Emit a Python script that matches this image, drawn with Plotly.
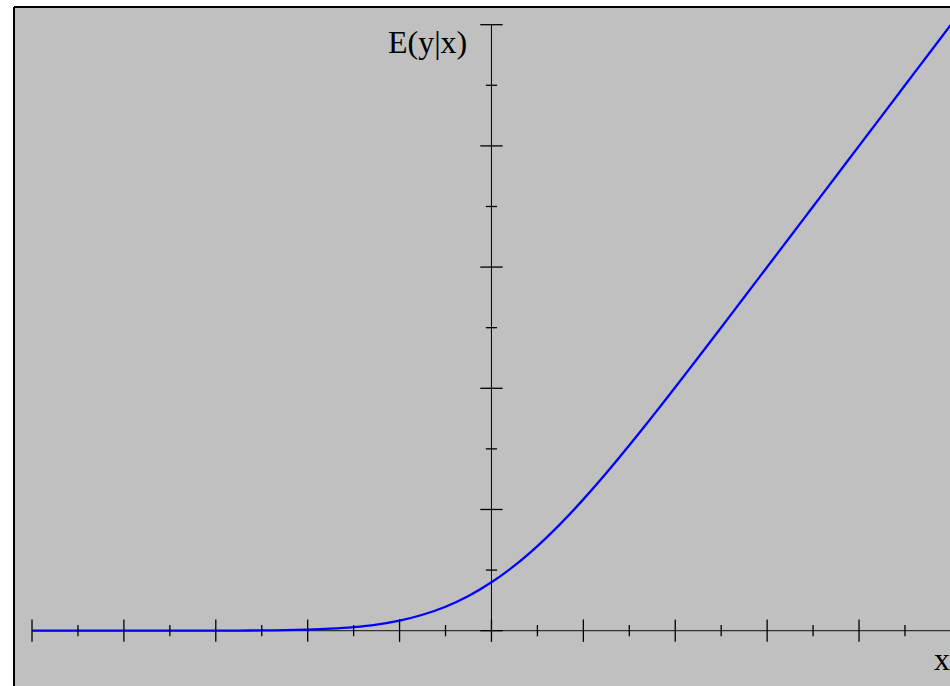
import plotly.graph_objects as go

# Data
x_vals = [-5.0, -4.75, -4.5, -4.25, -4.0, -3.75, -3.5, -3.25, -3.0, -2.75, -2.5, -2.25,
          -2.0, -1.75, -1.5, -1.25, -1.0, -0.75, -0.5, -0.25, 0.0, 0.25, 0.5, 0.75,
          1.0, 1.25, 1.5, 1.75, 2.0, 2.25, 2.5, 2.75, 3.0, 3.25, 3.5, 3.75, 4.0,
          4.25, 4.5, 4.75, 5.0]
ey_vals = [0.0, 0.0, 0.0, 0.0, 0.0, 0.00002, 0.00006, 0.00015, 0.0004, 0.0009, 0.002, 0.0042,
           0.0085, 0.0162, 0.0293, 0.0506, 0.0833, 0.1312, 0.1978, 0.2863, 0.3989, 0.5363, 0.6978, 0.8812,
           1.0833, 1.3006, 1.5293, 1.7662, 2.0085, 2.2542, 2.502, 2.7509, 3.0004, 3.2502, 3.5001, 3.75, 4.0,
           4.25, 4.5, 4.75, 5.0]

x_major_ticks = [-5, -4, -3, -2, -1, 0, 1, 2, 3, 4, 5]
x_minor_ticks = [-4.5, -3.5, -2.5, -1.5, -0.5, 0.5, 1.5, 2.5, 3.5, 4.5]
y_major_ticks = [0, 1, 2, 3, 4, 5]
y_minor_ticks = [0.5, 1.5, 2.5, 3.5, 4.5]

y_label = "E(y|x)"
x_label = "x"

fig = go.Figure()

# axes lines
fig.add_trace(go.Scatter(x=[x_major_ticks[0], x_major_ticks[-1]], y=[0, 0], mode="lines",
                         line=dict(color="#333333", width=1.2), hoverinfo="skip"))
fig.add_trace(go.Scatter(x=[0, 0], y=[y_major_ticks[0], y_major_ticks[-1]], mode="lines",
                         line=dict(color="black", width=1), hoverinfo="skip"))

# curve
fig.add_trace(go.Scatter(x=x_vals, y=ey_vals, mode="lines",
                         line=dict(color="blue", width=2.3, shape="spline", smoothing=0.6)))

# ticks
fig.add_trace(go.Scatter(x=x_major_ticks, y=[0] * len(x_major_ticks), mode="markers",
                         marker=dict(symbol="line-ns", size=16, line=dict(color="black", width=1.3)),
                         hoverinfo="skip"))
fig.add_trace(go.Scatter(x=x_minor_ticks, y=[0] * len(x_minor_ticks), mode="markers",
                         marker=dict(symbol="line-ns", size=8, line=dict(color="black", width=1.3)),
                         hoverinfo="skip"))
fig.add_trace(go.Scatter(x=[0] * len(y_major_ticks), y=y_major_ticks, mode="markers",
                         marker=dict(symbol="line-ew", size=16, line=dict(color="black", width=1.3)),
                         hoverinfo="skip"))
fig.add_trace(go.Scatter(x=[0] * len(y_minor_ticks), y=y_minor_ticks, mode="markers",
                         marker=dict(symbol="line-ew", size=8, line=dict(color="black", width=1.3)),
                         hoverinfo="skip"))

fig.add_annotation(x=-0.24, y=4.86, xref="x", yref="y", text=y_label, showarrow=False,
                   xanchor="right", yanchor="middle",
                   font=dict(family="Liberation Serif", size=32, color="black"))
fig.add_annotation(x=4.9, y=-0.235, xref="x", yref="y", text=x_label, showarrow=False,
                   xanchor="center", yanchor="middle",
                   font=dict(family="Liberation Serif", size=32, color="black"))

# border on left and top only (plot continues past right/bottom edges)
fig.add_shape(type="line", xref="paper", yref="paper", x0=0, x1=0, y0=0, y1=1,
              line=dict(color="black", width=2))
fig.add_shape(type="line", xref="paper", yref="paper", x0=0, x1=1, y0=1, y1=1,
              line=dict(color="black", width=2))

fig.update_layout(
    width=950, height=686,
    margin=dict(l=14, r=0, t=7, b=0),
    paper_bgcolor="white",
    plot_bgcolor="#c0c0c0",
    showlegend=False,
    xaxis=dict(range=[-5.196, 4.99], showgrid=False, zeroline=False, showticklabels=False,
               ticks="", showline=False, fixedrange=True),
    yaxis=dict(range=[-0.4565, 5.146], showgrid=False, zeroline=False, showticklabels=False,
               ticks="", showline=False, fixedrange=True),
)

fig.write_html("out.html")
